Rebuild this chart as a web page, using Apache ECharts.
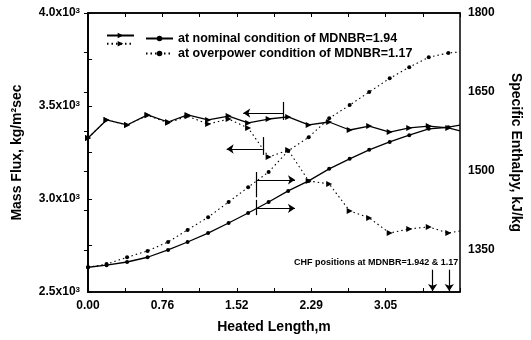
<!DOCTYPE html>
<html>
<head>
<meta charset="utf-8">
<script src="https://cdn.jsdelivr.net/npm/echarts@6/dist/echarts.min.js"></script>
<style>
html,body{margin:0;padding:0;background:#fff;}
#c{width:531px;height:340px;}
</style>
</head>
<body>
<div id="c"></div>
<script>
// ---- data ----
const positions = [0, 0.19, 0.40, 0.61, 0.82, 1.02, 1.23, 1.44, 1.64, 1.85, 2.05, 2.26, 2.47, 2.68, 2.88, 3.09, 3.29, 3.49, 3.69, 3.81];
const massFluxNominal = [3328, 3425, 3398, 3452, 3414, 3452, 3425, 3446, 3409, 3430, 3441, 3398, 3414, 3371, 3392, 3360, 3382, 3392, 3382, 3366];
const massFluxOverpower = [3328, 3425, 3398, 3450, 3410, 3445, 3403, 3430, 3382, 3226, 3263, 3097, 3081, 2936, 2898, 2817, 2839, 2850, 2817, 2828];
const enthalpyNominal = [1317, 1321, 1327, 1336, 1350, 1365, 1382, 1401, 1420, 1441, 1462, 1481, 1504, 1523, 1540, 1555, 1568, 1580, 1583, 1587];
const enthalpyOverpower = [1317, 1323, 1336, 1348, 1365, 1388, 1412, 1441, 1469, 1498, 1538, 1564, 1600, 1625, 1650, 1676, 1697, 1716, 1724, 1726];

const seriesNames = ['nominal mass flux', 'at nominal condition of MDNBR=1.94', 'overpower mass flux', 'at overpower condition of MDNBR=1.17'];

const xTickValues = [0, 0.381, 0.762, 1.143, 1.524, 1.905, 2.286, 2.667, 3.048, 3.429, 3.81];
const xLabelValues = [0, 0.762, 1.524, 2.286, 3.048];
const leftTickValues = [2500, 2750, 3000, 3250, 3500, 3750, 4000];
const leftLabelValues = [2500, 3000, 3500, 4000];
const rightTickValues = [1350, 1425, 1500, 1575, 1650, 1725, 1800];
const rightLabelValues = [1350, 1500, 1650, 1800];

// CHF indicator annotations (data units): bars [x, yFrom, yTo], arrows [xFrom, xTo, y]
const fluxBars = [[2.00, 3522, 3425], [1.79, 3333, 3237]];
const fluxArrows = [[2.00, 1.59, 3462], [1.79, 1.42, 3269]];
const enthBars = [[1.72, 1450, 1498], [1.72, 1416, 1445]];
const enthArrows = [[1.72, 2.12, 1483], [1.72, 2.12, 1429]];
const chfPositions = [3.53, 3.70];
const chfArrowRange = [2620, 2505];
const chfNote = 'CHF positions at MDNBR=1.942 & 1.17';
const chfNoteAt = [2.95, 2660];

const FONT = 'Liberation Sans, Arial, sans-serif';

function pts(ys) {
  return positions.map((x, i) => {
    const item = { value: [x, ys[i]] };
    if (i === positions.length - 1) item.symbol = 'none';
    return item;
  });
}

const barLine = (b) => [{ coord: [b[0], b[1]], symbol: 'none' }, { coord: [b[0], b[2]], symbol: 'none' }];
const arrowLine = (a) => [{ coord: [a[0], a[2]] }, { coord: [a[1], a[2]] }];

const chart = echarts.init(document.getElementById('c'), null, { renderer: 'canvas' });

const option = {
  backgroundColor: '#fff',
  animation: false,
  grid: { left: 88, right: 62, top: 13, bottom: 48, show: true, borderColor: '#000', borderWidth: 1.5 },
  legend: [
    {
      data: [seriesNames[0], seriesNames[2]],
      orient: 'vertical', left: 101, top: 27, itemGap: 2,
      itemWidth: 27, itemHeight: 7,
      formatter: () => '',
      textStyle: { fontSize: 12, fontFamily: FONT },
      selectedMode: false
    },
    {
      data: [seriesNames[1], seriesNames[3]],
      orient: 'vertical', left: 140, top: 27, itemGap: 2,
      itemWidth: 27, itemHeight: 7,
      textStyle: { fontSize: 12.5, fontFamily: FONT, color: '#000', fontWeight: 'bold' },
      selectedMode: false
    }
  ],
  xAxis: [
    {
      type: 'value', min: 0, max: 3.81, position: 'bottom',
      name: 'Heated Length,m', nameLocation: 'middle', nameGap: 28,
      nameTextStyle: { fontSize: 14, fontWeight: 'bold', color: '#000', fontFamily: FONT },
      axisLine: { lineStyle: { color: '#000', width: 1.5 } },
      axisTick: { inside: true, length: 4, customValues: xTickValues, lineStyle: { color: '#000' } },
      axisLabel: { customValues: xLabelValues, formatter: v => v.toFixed(2), fontSize: 12, fontWeight: 'bold', color: '#000', fontFamily: FONT, margin: 8 },
      splitLine: { show: false }
    },
    {
      type: 'value', min: 0, max: 3.81, position: 'top',
      axisLine: { lineStyle: { color: '#000', width: 1.5 } },
      axisTick: { inside: true, length: 4, customValues: xTickValues, lineStyle: { color: '#000' } },
      axisLabel: { show: false },
      splitLine: { show: false }
    }
  ],
  yAxis: [
    {
      type: 'value', min: 2500, max: 4000, position: 'left',
      name: 'Mass Flux, kg/m²sec', nameLocation: 'middle', nameGap: 64,
      nameTextStyle: { fontSize: 14, fontWeight: 'bold', color: '#000', fontFamily: FONT },
      axisLine: { show: true, lineStyle: { color: '#000', width: 1.5 } },
      axisTick: { inside: true, length: 4, customValues: leftTickValues, lineStyle: { color: '#000' } },
      axisLabel: {
        customValues: leftLabelValues,
        formatter: v => '{b|' + (v / 1000).toFixed(1) + 'x10}{s|3}',
        margin: 8,
        rich: {
          b: { fontSize: 12, fontWeight: 'bold', color: '#000', fontFamily: FONT },
          s: { fontSize: 8, fontWeight: 'bold', color: '#000', fontFamily: FONT, verticalAlign: 'top', padding: [0, 0, 5, 0] }
        }
      },
      splitLine: { show: false }
    },
    {
      type: 'value', min: 1270, max: 1800, position: 'right',
      name: 'Specific Enthalpy, kJ/kg', nameLocation: 'middle', nameGap: 49, nameRotate: -90,
      nameTextStyle: { fontSize: 14, fontWeight: 'bold', color: '#000', fontFamily: FONT },
      axisLine: { show: true, lineStyle: { color: '#000', width: 1.5 } },
      axisTick: { inside: true, length: 4, customValues: rightTickValues, lineStyle: { color: '#000' } },
      axisLabel: { customValues: rightLabelValues, formatter: v => String(v), fontSize: 12, fontWeight: 'bold', color: '#000', fontFamily: FONT, margin: 8 },
      splitLine: { show: false }
    }
  ],
  series: [
    {
      name: seriesNames[0], type: 'line', xAxisIndex: 0, yAxisIndex: 0,
      data: pts(massFluxNominal),
      symbol: 'triangle', symbolSize: 6, symbolRotate: -90,
      lineStyle: { color: '#000', width: 1.3 }, itemStyle: { color: '#000' },
      z: 4,
      markLine: {
        silent: true, symbol: ['none', 'arrow'], symbolSize: 7,
        label: { show: false },
        lineStyle: { color: '#000', width: 1.2, type: 'solid' },
        data: fluxBars.map(barLine)
          .concat(fluxArrows.map(arrowLine))
          .concat(chfPositions.map(x => [{ coord: [x, chfArrowRange[0]] }, { coord: [x, chfArrowRange[1]] }]))
      },
      markPoint: {
        silent: true, symbol: 'circle', symbolSize: 0,
        label: { show: true, formatter: chfNote, color: '#000', fontSize: 9, fontWeight: 'bold', fontFamily: FONT },
        data: [{ coord: chfNoteAt }]
      }
    },
    {
      name: seriesNames[1], type: 'line', xAxisIndex: 0, yAxisIndex: 1,
      data: pts(enthalpyNominal),
      symbol: 'circle', symbolSize: 4,
      lineStyle: { color: '#000', width: 1.3 }, itemStyle: { color: '#000' },
      z: 4,
      markLine: {
        silent: true, symbol: ['none', 'arrow'], symbolSize: 7,
        label: { show: false },
        lineStyle: { color: '#000', width: 1.2, type: 'solid' },
        data: enthBars.map(barLine).concat(enthArrows.map(arrowLine))
      }
    },
    {
      name: seriesNames[2], type: 'line', xAxisIndex: 0, yAxisIndex: 0,
      data: pts(massFluxOverpower),
      symbol: 'triangle', symbolSize: 6, symbolRotate: -90,
      lineStyle: { color: '#000', width: 1.1, type: [1.5, 3] }, itemStyle: { color: '#000' },
      z: 3
    },
    {
      name: seriesNames[3], type: 'line', xAxisIndex: 0, yAxisIndex: 1,
      data: pts(enthalpyOverpower),
      symbol: 'circle', symbolSize: 4,
      lineStyle: { color: '#000', width: 1.1, type: [1.5, 3] }, itemStyle: { color: '#000' },
      z: 3
    }
  ]
};
chart.setOption(option);
</script>
</body>
</html>
